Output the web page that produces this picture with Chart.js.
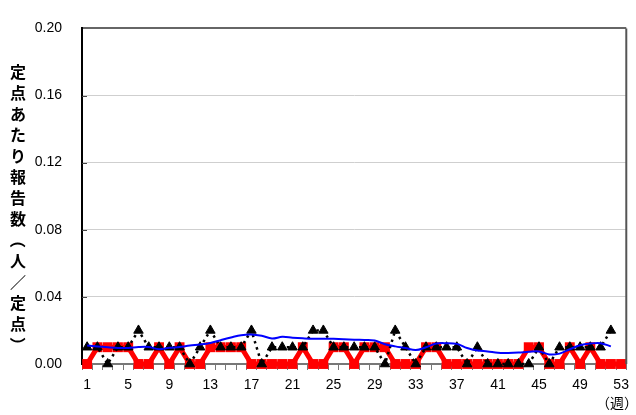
<!DOCTYPE html>
<html>
<head>
<meta charset="utf-8">
<script src="https://cdn.jsdelivr.net/npm/chart.js@4.4.0/dist/chart.umd.min.js"></script>
<style>
  html, body { margin: 0; padding: 0; background: #fff; }
  #wrap { width: 636px; height: 415px; }
</style>
</head>
<body>
<div id="wrap"><canvas id="chart1" width="636" height="415"></canvas></div>
<script>
// Weekly report chart (per sentinel)

const weeks = Array.from({ length: 53 }, (_, i) => String(i + 1));

// red: this season
const seriesRed = [
  0, 0.01, 0.01, 0.01, 0.01, 0, 0, 0.01, 0, 0.01,
  0, 0, 0.01, 0.01, 0.01, 0.01, 0, 0, 0, 0,
  0, 0.01, 0, 0, 0.01, 0.01, 0, 0.01, 0.01, 0.01,
  0, 0, 0, 0.01, 0.01, 0, 0, 0, 0, 0,
  0, 0, 0, 0.01, 0.01, 0, 0, 0.01, 0, 0.01,
  0, 0, 0
];

// black dotted: last season
const seriesBlack = [
  0.01, 0.01, 0, 0.01, 0.01, 0.02, 0.01, 0.01, 0.01, 0.01,
  0, 0.01, 0.02, 0.01, 0.01, 0.01, 0.02, 0, 0.01, 0.01,
  0.01, 0.01, 0.02, 0.02, 0.01, 0.01, 0.01, 0.01, 0.01, 0,
  0.02, 0.01, 0, 0.01, 0.01, 0.01, 0.01, 0, 0.01, 0,
  0, 0, 0, 0, 0.01, 0, 0.01, 0.01, 0.01, 0.01,
  0.01, 0.02, null
];

// blue: average of past years
const seriesBlue = [
  0.0110, 0.0105, 0.0100, 0.0096, 0.0096, 0.0101, 0.0101, 0.0088, 0.0097, 0.0101,
  0.0110, 0.0116, 0.0125, 0.0142, 0.0158, 0.0172, 0.0176, 0.0168, 0.0152, 0.0162,
  0.0157, 0.0153, 0.0150, 0.0150, 0.0150, 0.0148, 0.0145, 0.0143, 0.0140, 0.0118,
  0.0105, 0.0095, 0.0083, 0.0100, 0.0122, 0.0124, 0.0120, 0.0095, 0.0080, 0.0075,
  0.0067, 0.0066, 0.0068, 0.0073, 0.0075, 0.0057, 0.0062, 0.0088, 0.0112, 0.0122,
  0.0124, 0.0105, null
];

const yTicks = [0, 0.04, 0.08, 0.12, 0.16, 0.2];
const yTitleChars = ["定", "点", "あ", "た", "り", "報", "告", "数", "（", "人", "／", "定", "点", "）"];
const xUnit = "（週）";

const decorations = {
  id: "decorations",
  afterDraw(chart) {
    const { ctx, chartArea } = chart;
    ctx.save();
    // right frame line
    ctx.strokeStyle = "#555";
    ctx.lineWidth = 2;
    ctx.beginPath();
    ctx.moveTo(chartArea.right, chartArea.top);
    ctx.lineTo(chartArea.right, chartArea.bottom);
    ctx.stroke();
    // inside ticks on the y axis
    const y = chart.scales.y;
    ctx.strokeStyle = "#444";
    ctx.lineWidth = 1;
    yTicks.slice(1, -1).forEach((v) => {
      const py = Math.round(y.getPixelForValue(v)) + 0.5;
      ctx.beginPath();
      ctx.moveTo(chartArea.left, py);
      ctx.lineTo(chartArea.left + 5, py);
      ctx.stroke();
    });
    // vertical y title
    ctx.fillStyle = "#000";
    ctx.font = "bold 16px 'Noto Sans CJK JP'";
    ctx.textAlign = "center";
    ctx.textBaseline = "middle";
    let ty = 72;
    yTitleChars.forEach((c) => {
      if (c === "（" || c === "）") {
        ctx.save();
        ctx.translate(18, ty);
        ctx.rotate(Math.PI / 2);
        ctx.fillText(c, 0, 0);
        ctx.restore();
      } else {
        ctx.fillText(c, 18, ty);
      }
      ty += 21;
    });
    // unit under the last x label
    ctx.font = "14px 'Noto Sans CJK JP'";
    ctx.fillText(xUnit, 617, 403);
    ctx.restore();
  },
};

const ctx1 = document.getElementById("chart1").getContext("2d");

const weeklyChart = new Chart(ctx1, {
  type: "line",
  data: {
    labels: weeks,
    datasets: [
      {
        label: "blue",
        data: seriesBlue,
        borderColor: "#0000ff",
        borderWidth: 2,
        pointRadius: 0,
        tension: 0.35,
        fill: false,
      },
      {
        label: "black",
        data: seriesBlack,
        borderColor: "#000",
        borderWidth: 2.5,
        borderDash: [2.5, 4],
        pointStyle: "triangle",
        pointRadius: 5.5,
        pointBackgroundColor: "#000",
        pointBorderColor: "#000",
        pointBorderWidth: 1,
        tension: 0,
        fill: false,
        clip: false,
      },
      {
        label: "red",
        data: seriesRed,
        borderColor: "#ff0000",
        borderWidth: 5,
        pointStyle: "rect",
        pointRadius: 7,
        pointBackgroundColor: "#ff0000",
        pointBorderColor: "#ff0000",
        pointBorderWidth: 0,
        tension: 0,
        fill: false,
        clip: false,
      },
    ],
  },
  options: {
    responsive: false,
    animation: false,
    layout: { padding: { left: 0, right: 7, top: 19, bottom: 0 } },
    plugins: {
      legend: { display: false },
      tooltip: { enabled: false },
    },
    scales: {
      x: {
        offset: true,
        grid: {
          offset: true,
          drawOnChartArea: false,
          color: "#777",
          tickLength: 6,
        },
        border: { color: "#777", width: 2 },
        ticks: {
          autoSkip: false,
          maxRotation: 0,
          padding: 7,
          color: "#000",
          font: { family: "'Liberation Sans', Arial", size: 14 },
          callback: (v, i) => (i % 4 === 0 ? weeks[i] : ""),
        },
        afterFit: (scale) => { scale.height = 51; },
      },
      y: {
        min: 0,
        max: 0.2,
        afterBuildTicks: (scale) => {
          scale.ticks = yTicks.map((v) => ({ value: v }));
        },
        grid: {
          drawTicks: false,
          color: (c) => (c.tick && c.tick.value === 0.2 ? "#666" : "#cfcfcf"),
          lineWidth: (c) => (c.tick && c.tick.value === 0.2 ? 2 : 1),
        },
        border: { color: "#000", width: 2 },
        ticks: {
          padding: 20,
          color: "#000",
          font: { family: "'Liberation Sans', Arial", size: 14 },
          callback: (v) => Number(v).toFixed(2),
        },
        afterFit: (scale) => { scale.width = 82; },
      },
    },
  },
  plugins: [decorations],
});
</script>
</body>
</html>
